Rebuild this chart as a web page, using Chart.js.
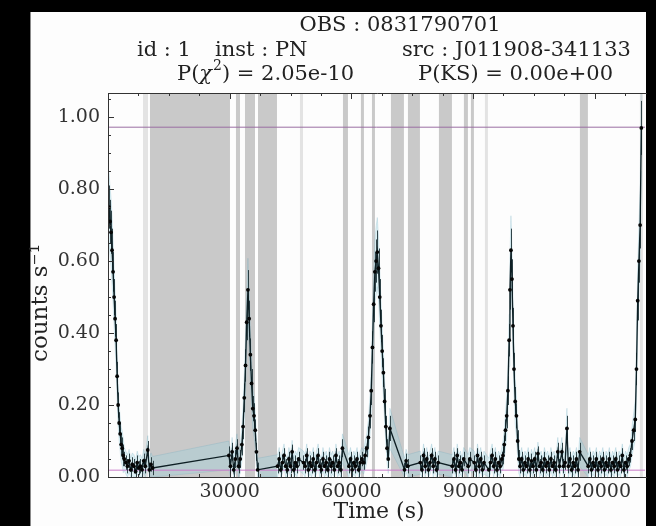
<!DOCTYPE html>
<html>
<head>
<meta charset="utf-8">
<script src="https://cdn.jsdelivr.net/npm/chart.js@4.4.1/dist/chart.umd.min.js"></script>
<style>
  html, body { margin: 0; padding: 0; background: #000; }
  canvas { display: block; }
</style>
</head>
<body>
<canvas id="lc" width="656" height="526"></canvas>
<script>
// light curve bins (time in s, rate in counts/s, 1-sigma error)
const times = [
  250, 500, 750, 1000, 1250, 1500, 1750, 2000, 2250, 2500,
  2750, 3000, 3250, 3500, 3750, 4000, 4400, 4800, 5200, 5600,
  6000, 6400, 6800, 7200, 7600, 8000, 8400, 8800, 9200, 9800,
  10200, 10600, 11000,
  29800, 30200, 30600, 31000, 31400, 31800, 32200, 32600, 33000, 33300,
  33600, 33900, 34200, 34500, 34800, 35100, 35400, 35700, 36000, 36300,
  36600, 36900,
  41800, 42200, 42600, 43000, 43400, 43800, 44200, 44600, 45000, 45400,
  45800, 46200, 46600, 47000, 48200, 48600, 49000, 49400, 49800, 50200,
  50600, 51000, 51400, 51800, 52200, 52600, 53000, 53400, 53800, 54200,
  54600, 55000, 55400, 55800, 56200, 56600, 57000, 57400, 57800, 59400,
  59800, 60200, 60600, 61000, 61400, 61800, 62200,
  62600, 63000, 63400, 63800, 64200, 64600, 64900, 65200, 65500, 65800,
  66100, 66400, 66700, 67000, 67300, 67600, 67900, 68200, 68500, 68800,
  69100, 69500,
  73100, 73500, 73900, 77000, 77400, 77800, 78200, 78600, 79000, 79400,
  79800, 80200, 80600, 81000, 81400, 84900, 85300, 85700, 86100, 86500,
  86900, 87300, 87700, 88800, 89200, 90300, 90700, 91100, 91500, 91900,
  92300, 92700, 93900, 94300, 94700, 95100, 95500, 95900, 96300, 96700,
  97100,
  97400, 97700, 98000, 98300, 98600, 98900, 99100, 99350, 99600, 99850,
  100100, 100400, 100700, 101000, 101300,
  101600, 102000, 102400, 102800, 103200, 103600, 104000, 104400, 104800, 105200,
  105600, 106000, 106400, 106800, 107200, 107600, 108000, 108400, 108800, 109200,
  109600, 110000, 110400, 110900, 111300, 111900, 112300, 112700, 113150, 113500,
  113900, 114300, 114700, 115100, 115500, 115900, 116300,
  118400, 118800, 119200, 119600, 120000, 120400, 120800, 121200, 121600, 122000,
  122400, 122800, 123200, 123600, 124000, 124400, 124800, 125200, 125600, 126000,
  126400, 126800, 127200, 127600, 128000, 128400, 128800, 129200, 129600, 130000,
  130300, 130600, 130900, 131200, 131500
];
const rates = [
  0.75, 0.71, 0.68, 0.63, 0.57, 0.50, 0.44, 0.38, 0.28, 0.20,
  0.15, 0.12, 0.09, 0.08, 0.06, 0.05, 0.04, 0.03, 0.045, 0.02,
  0.035, 0.03, 0.015, 0.04, 0.025, 0.03, 0.02, 0.045, 0.03, 0.075,
  0.02, 0.035, 0.025,
  0.06, 0.03, 0.07, 0.02, 0.05, 0.08, 0.03, 0.05, 0.09, 0.14,
  0.22, 0.31, 0.43, 0.52, 0.44, 0.34, 0.26, 0.19, 0.17, 0.13,
  0.07, 0.02,
  0.03, 0.05, 0.02, 0.04, 0.06, 0.03, 0.02, 0.05, 0.03, 0.07,
  0.02, 0.04, 0.03, 0.05, 0.04, 0.03, 0.06, 0.02, 0.04, 0.03,
  0.05, 0.02, 0.04, 0.06, 0.03, 0.02, 0.05, 0.03, 0.04, 0.02,
  0.05, 0.03, 0.04, 0.02, 0.06, 0.03, 0.04, 0.02, 0.08, 0.03,
  0.05, 0.02, 0.04, 0.03, 0.05, 0.02, 0.04,
  0.05, 0.04, 0.06, 0.08, 0.11, 0.17, 0.24, 0.36, 0.48, 0.57,
  0.60, 0.625, 0.58, 0.50, 0.42, 0.35, 0.29, 0.21, 0.14, 0.08,
  0.05, 0.135,
  0.02, 0.045, 0.03, 0.04, 0.02, 0.06, 0.03, 0.05, 0.02, 0.04,
  0.06, 0.03, 0.05, 0.02, 0.04, 0.03, 0.05, 0.02, 0.06, 0.03,
  0.04, 0.02, 0.05, 0.03, 0.05, 0.04, 0.02, 0.06, 0.03, 0.05,
  0.02, 0.04, 0.02, 0.04, 0.06, 0.03, 0.05, 0.02, 0.04, 0.03,
  0.05,
  0.06, 0.09, 0.13, 0.17, 0.24, 0.38, 0.52, 0.63, 0.55, 0.42,
  0.30, 0.21, 0.17, 0.10, 0.05,
  0.03, 0.05, 0.02, 0.04, 0.03, 0.05, 0.02, 0.045, 0.03, 0.05,
  0.02, 0.065, 0.03, 0.04, 0.02, 0.05, 0.03, 0.04, 0.02, 0.05,
  0.03, 0.04, 0.02, 0.07, 0.03, 0.07, 0.03, 0.04, 0.135, 0.03,
  0.05, 0.02, 0.04, 0.03, 0.05, 0.02, 0.07,
  0.03, 0.05, 0.02, 0.04, 0.03, 0.05, 0.02, 0.04, 0.03, 0.05,
  0.02, 0.04, 0.03, 0.05, 0.02, 0.04, 0.03, 0.05, 0.02, 0.04,
  0.03, 0.06, 0.02, 0.04, 0.03, 0.05, 0.06, 0.10, 0.13, 0.16,
  0.30, 0.49, 0.60, 0.70, 0.97
];
const errors = [
  0.06, 0.06, 0.06, 0.06, 0.055, 0.05, 0.05, 0.045, 0.04, 0.035,
  0.03, 0.03, 0.03, 0.03, 0.03, 0.02, 0.02, 0.02, 0.02, 0.02,
  0.02, 0.02, 0.02, 0.02, 0.02, 0.02, 0.02, 0.02, 0.02, 0.025,
  0.02, 0.02, 0.02,
  0.025, 0.02, 0.025, 0.02, 0.025, 0.025, 0.02, 0.025, 0.03, 0.035,
  0.04, 0.045, 0.05, 0.055, 0.05, 0.045, 0.04, 0.035, 0.035, 0.03,
  0.025, 0.02,
  0.02, 0.02, 0.02, 0.02, 0.02, 0.02, 0.02, 0.02, 0.02, 0.02,
  0.02, 0.02, 0.02, 0.02, 0.02, 0.02, 0.02, 0.02, 0.02, 0.02,
  0.02, 0.02, 0.02, 0.02, 0.02, 0.02, 0.02, 0.02, 0.02, 0.02,
  0.02, 0.02, 0.02, 0.02, 0.02, 0.02, 0.02, 0.02, 0.025, 0.02,
  0.02, 0.02, 0.02, 0.02, 0.02, 0.02, 0.02,
  0.02, 0.02, 0.025, 0.025, 0.03, 0.035, 0.04, 0.045, 0.05, 0.055,
  0.06, 0.06, 0.055, 0.05, 0.045, 0.045, 0.04, 0.035, 0.03, 0.025,
  0.025, 0.035,
  0.02, 0.02, 0.02, 0.02, 0.02, 0.02, 0.02, 0.02, 0.02, 0.02,
  0.02, 0.02, 0.02, 0.02, 0.02, 0.02, 0.02, 0.02, 0.02, 0.02,
  0.02, 0.02, 0.02, 0.02, 0.02, 0.02, 0.02, 0.02, 0.02, 0.02,
  0.02, 0.02, 0.02, 0.02, 0.02, 0.02, 0.02, 0.02, 0.02, 0.02,
  0.02,
  0.025, 0.025, 0.03, 0.035, 0.04, 0.045, 0.055, 0.06, 0.055, 0.05,
  0.045, 0.04, 0.035, 0.03, 0.025,
  0.02, 0.02, 0.02, 0.02, 0.02, 0.02, 0.02, 0.02, 0.02, 0.02,
  0.02, 0.02, 0.02, 0.02, 0.02, 0.02, 0.02, 0.02, 0.02, 0.02,
  0.02, 0.02, 0.02, 0.025, 0.02, 0.025, 0.02, 0.02, 0.035, 0.02,
  0.02, 0.02, 0.02, 0.02, 0.02, 0.02, 0.025,
  0.02, 0.02, 0.02, 0.02, 0.02, 0.02, 0.02, 0.02, 0.02, 0.02,
  0.02, 0.02, 0.02, 0.02, 0.02, 0.02, 0.02, 0.02, 0.02, 0.02,
  0.02, 0.02, 0.02, 0.02, 0.02, 0.02, 0.02, 0.025, 0.03, 0.035,
  0.045, 0.055, 0.06, 0.065, 0.075
];

// flagged time intervals (s)
const badIntervals = [
  [10350, 30070], [31550, 32540], [33770, 36240], [36980, 41660],
  [57930, 59160], [62360, 63100], [65080, 65820], [69760, 72960],
  [73950, 76910], [81590, 84800], [87750, 88740], [89480, 90220],
  [116350, 118320]
];
const faintIntervals = [[8630, 9860], [47330, 48070], [92930, 93670], [131140, 131880]];

const upperLevel = 0.972;   // horizontal reference line near top
const lowerLevel = 0.019;   // mean level line
const xMax = 132400;
const yMax = 1.067;
const xTicks = [30000, 60000, 90000, 120000];
const yTicks = [0, 0.2, 0.4, 0.6, 0.8, 1.0];
const xMinor = 7500, yMinor = 0.05;

const pts = times.map((t, i) => ({ x: t, y: rates[i] }));
const hi = times.map((t, i) => ({ x: t, y: rates[i] + 1.6 * errors[i] }));
const lo = times.map((t, i) => ({ x: t, y: Math.max(0, rates[i] - 1.6 * errors[i]) }));

const serif = '"DejaVu Serif", serif';

const panel = {
  id: 'panel',
  beforeDraw(chart) {
    const c = chart.ctx;
    c.save();
    c.fillStyle = '#000';
    c.fillRect(0, 0, chart.width, chart.height);
    c.fillStyle = '#fdfdfd';
    c.fillRect(30, 12, 616, 514);
    c.strokeStyle = '#8a8a8a';
    c.lineWidth = 1;
    c.beginPath();
    c.moveTo(30.5, 12); c.lineTo(30.5, 526);
    c.stroke();
    c.restore();
  }
};

const shading = {
  id: 'shading',
  beforeDatasetsDraw(chart) {
    const { ctx, chartArea: a, scales: { x } } = chart;
    ctx.save();
    ctx.beginPath();
    ctx.rect(a.left, a.top, a.right - a.left, a.bottom - a.top);
    ctx.clip();
    ctx.fillStyle = '#e3e3e3';
    faintIntervals.forEach(([s, e]) => {
      const x0 = x.getPixelForValue(s), x1 = x.getPixelForValue(e);
      ctx.fillRect(x0, a.top, x1 - x0, a.bottom - a.top);
    });
    ctx.fillStyle = '#c9c9c9';
    badIntervals.forEach(([s, e]) => {
      const x0 = x.getPixelForValue(s), x1 = x.getPixelForValue(e);
      ctx.fillRect(x0, a.top, x1 - x0, a.bottom - a.top);
    });
    ctx.restore();
  }
};

// vertical error bars drawn just under the light-curve points
const errBars = {
  id: 'errBars',
  beforeDatasetDraw(chart, args) {
    if (args.index !== 0) return;
    const { ctx, scales: { x, y } } = chart;
    ctx.save();
    ctx.strokeStyle = 'rgba(20, 40, 45, 0.85)';
    ctx.lineWidth = 1;
    ctx.beginPath();
    times.forEach((t, i) => {
      const px = Math.round(x.getPixelForValue(t)) + 0.5;
      ctx.moveTo(px, y.getPixelForValue(Math.max(0, rates[i] - errors[i])));
      ctx.lineTo(px, y.getPixelForValue(rates[i] + errors[i]));
    });
    ctx.stroke();
    ctx.restore();
  }
};

const frame = {
  id: 'frame',
  afterDraw(chart) {
    const { ctx, chartArea: a, scales: { x, y } } = chart;
    ctx.save();
    ctx.strokeStyle = '#333';
    ctx.lineWidth = 1;
    ctx.beginPath();
    ctx.moveTo(a.right + 2, a.top + 0.5); ctx.lineTo(a.left + 0.5, a.top + 0.5);
    ctx.lineTo(a.left + 0.5, a.bottom + 0.5); ctx.lineTo(a.right + 2, a.bottom + 0.5);
    ctx.stroke();
    ctx.beginPath();
    for (let v = 0; v <= xMax; v += xMinor) {
      const px = Math.round(x.getPixelForValue(v)) + 0.5;
      const len = xTicks.includes(v) ? 6 : 3;
      ctx.moveTo(px, a.bottom); ctx.lineTo(px, a.bottom - len);
      ctx.moveTo(px, a.top); ctx.lineTo(px, a.top + len);
    }
    for (let k = 0; k * yMinor <= yMax; k++) {
      const py = Math.round(y.getPixelForValue(k * yMinor)) + 0.5;
      const len = k % 4 === 0 ? 6 : 3;
      ctx.moveTo(a.left, py); ctx.lineTo(a.left + len, py);
    }
    ctx.stroke();
    ctx.restore();
  }
};

const texts = {
  id: 'texts',
  afterDraw(chart) {
    const c = chart.ctx;
    c.save();
    c.fillStyle = '#222';
    c.font = '21px ' + serif;
    c.textBaseline = 'alphabetic';
    c.textAlign = 'center';
    c.fillText('OBS : 0831790701', 400, 31);
    c.textAlign = 'left';
    c.fillText('id : 1', 137, 56);
    c.fillText('inst : PN', 215, 56);
    c.fillText('src : J011908-341133', 402, 56);
    // P(chi^2) with superscript
    let px = 177;
    c.fillText('P(', px, 80); px += c.measureText('P(').width;
    c.font = 'italic 21px ' + serif;
    c.fillText('\u03c7', px, 80); px += c.measureText('\u03c7').width;
    c.font = '14px ' + serif;
    c.fillText('2', px + 1, 70); px += c.measureText('2').width + 1;
    c.font = '21px ' + serif;
    c.fillText(') = 2.05e-10', px, 80);
    c.fillText('P(KS) = 0.00e+00', 418, 80);
    c.textAlign = 'center';
    c.font = '22px ' + serif;
    c.fillText('Time (s)', 379, 518);
    c.font = '23px ' + serif;
    c.translate(47, 303);
    c.rotate(-Math.PI / 2);
    c.fillText('counts s\u207b\u00b9', 0, 0);
    c.restore();
  }
};

new Chart(document.getElementById('lc').getContext('2d'), {
  type: 'line',
  data: {
    datasets: [
      {
        data: pts, order: 0,
        borderColor: '#0e1f24', borderWidth: 1.3,
        pointRadius: 1.9, pointBackgroundColor: '#050505', pointBorderWidth: 0,
        tension: 0
      },
      {
        data: [{ x: 0, y: upperLevel }, { x: xMax, y: upperLevel }], order: 1,
        borderColor: '#9a6fa2', borderWidth: 1, pointRadius: 0
      },
      {
        data: [{ x: 0, y: lowerLevel }, { x: xMax, y: lowerLevel }], order: 1,
        borderColor: '#c87ac8', borderWidth: 1, pointRadius: 0
      },
      {
        data: hi, order: 2, fill: '+1',
        backgroundColor: 'rgba(150, 212, 226, 0.3)',
        borderColor: 'rgba(90, 160, 185, 0.3)', borderWidth: 0.7, pointRadius: 0
      },
      {
        data: lo, order: 2,
        borderColor: 'rgba(90, 160, 185, 0.3)', borderWidth: 0.7, pointRadius: 0
      }
    ]
  },
  options: {
    responsive: false,
    animation: false,
    devicePixelRatio: 1,
    layout: { padding: { top: 93, right: 11, left: 0, bottom: 0 } },
    plugins: { legend: { display: false }, tooltip: { enabled: false } },
    scales: {
      x: {
        type: 'linear', min: 0, max: xMax,
        afterBuildTicks(s) { s.ticks = xTicks.map(v => ({ value: v })); },
        afterFit(s) { s.height = 49; },
        grid: { display: false, drawTicks: false },
        border: { display: false },
        ticks: {
          padding: 4, maxRotation: 0, autoSkip: false,
          color: '#333', font: { family: serif, size: 19 },
          callback: v => String(v)
        }
      },
      y: {
        min: 0, max: yMax,
        afterBuildTicks(s) { s.ticks = yTicks.map(v => ({ value: v })); },
        afterFit(s) { s.width = 108; },
        grid: { display: false, drawTicks: false },
        border: { display: false },
        ticks: {
          padding: 8,
          color: '#333', font: { family: serif, size: 19 },
          callback: v => v.toFixed(2)
        }
      }
    }
  },
  plugins: [panel, shading, errBars, frame, texts]
});
</script>
</body>
</html>
